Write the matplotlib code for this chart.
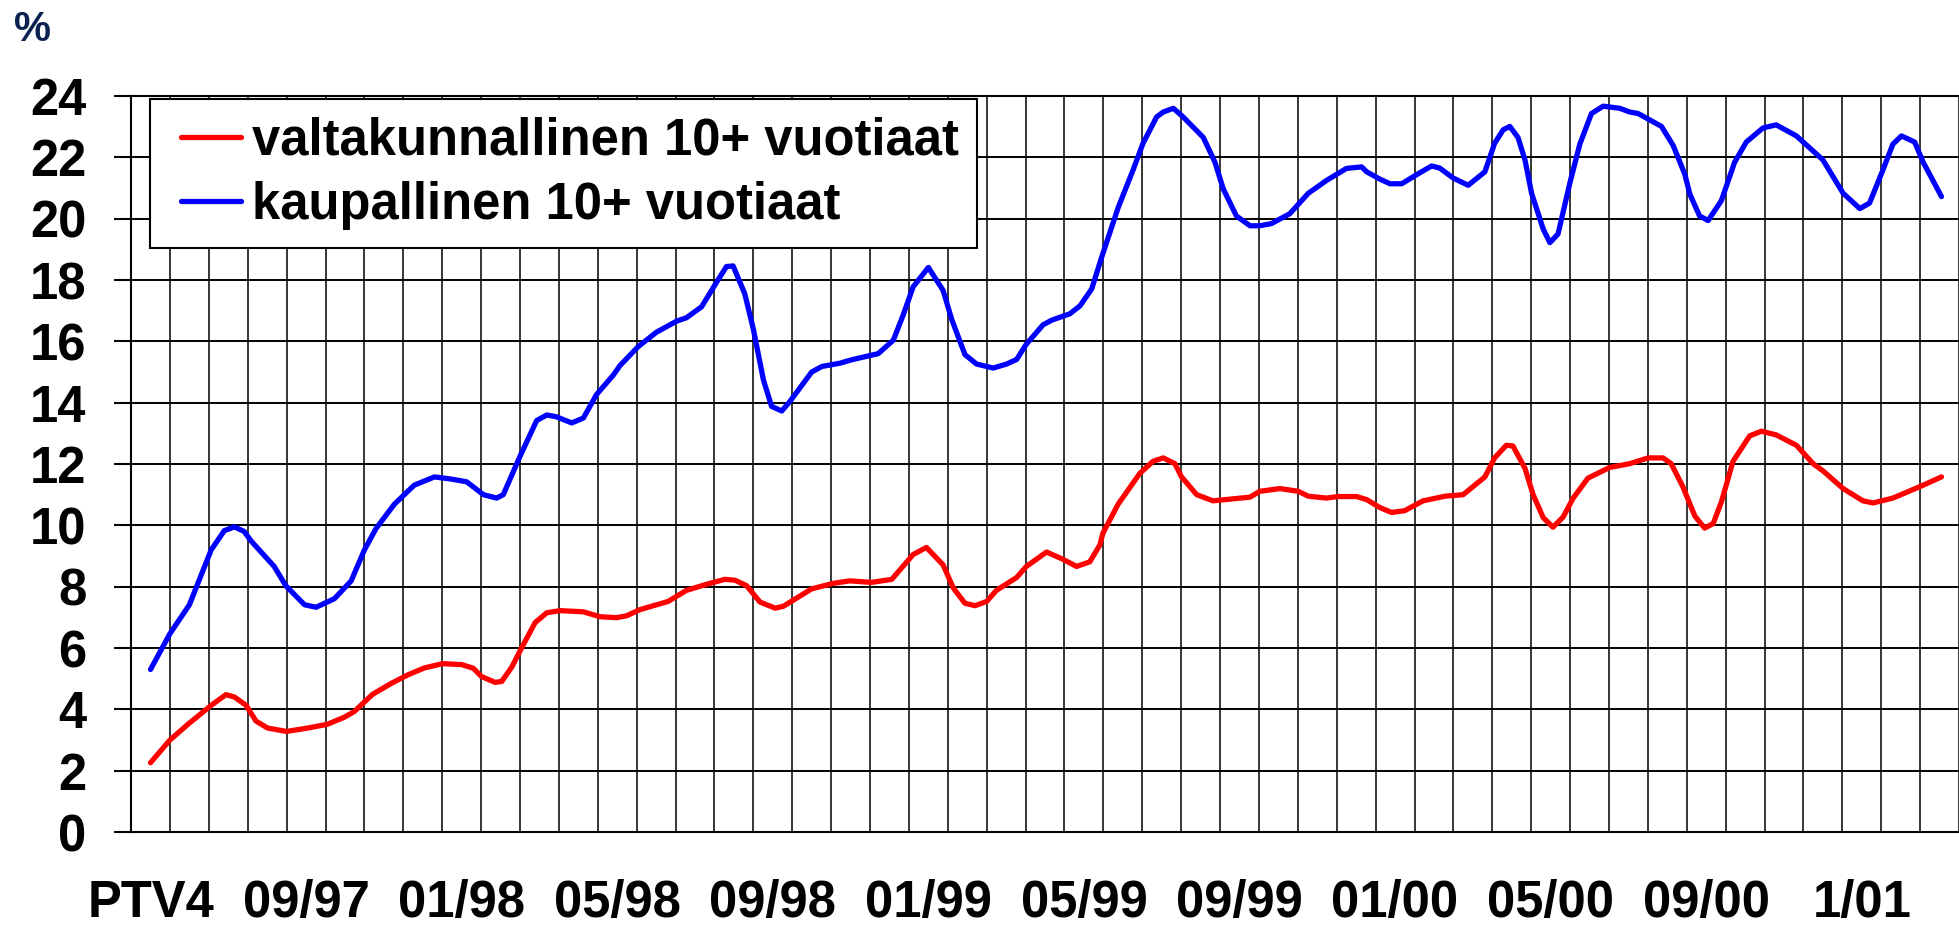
import matplotlib
matplotlib.use("Agg")
import matplotlib.pyplot as plt
from matplotlib.ticker import FixedLocator, MultipleLocator
from matplotlib.legend_handler import HandlerLine2D

plt.rcParams['font.family'] = ['Liberation Sans', 'DejaVu Sans']
plt.rcParams['font.weight'] = 'bold'

# kuukausiluokat: 0 = PTV4 (06/97), 47 kuukautta
tick_pos = [0.5, 4.5, 8.5, 12.5, 16.5, 20.5, 24.5, 28.5, 32.5, 36.5, 40.5, 44.5]
tick_labels = ['PTV4', '09/97', '01/98', '05/98', '09/98', '01/99',
               '05/99', '09/99', '01/00', '05/00', '09/00', '1/01']

# valtakunnallinen 10+ vuotiaat (%)
red_x = [0.5, 1.0, 1.46, 1.76, 2.06, 2.44, 2.66, 2.96, 3.21, 3.51, 4.0, 4.54,
         5.04, 5.48, 5.74, 6.21, 6.68, 7.11, 7.54, 8.01, 8.5, 8.8, 9.01, 9.36,
         9.53, 9.79, 10.04, 10.39, 10.69, 11.03, 11.63, 12.06, 12.48, 12.74,
         13.08, 13.81, 14.28, 14.8, 15.27, 15.53, 15.83, 16.17, 16.56, 16.77,
         17.5, 18.06, 18.48, 19.04, 19.56, 20.11, 20.45, 20.88, 21.14, 21.44,
         21.7, 22.0, 22.25, 22.77, 23.02, 23.54, 23.95, 24.31, 24.65, 24.91,
         24.99, 25.38, 25.94, 26.28, 26.54, 26.84, 27.01, 27.4, 27.82, 28.77,
         29.02, 29.54, 30.01, 30.27, 30.74, 31.04, 31.51, 31.77, 32.11, 32.41,
         32.75, 33.22, 33.78, 34.25, 34.81, 35.06, 35.36, 35.53, 35.84, 36.05,
         36.31, 36.56, 36.82, 37.08, 37.46, 38.02, 38.53, 39.01, 39.39, 39.6,
         39.9, 40.08, 40.21, 40.46, 40.68, 40.89, 41.19, 41.62, 41.92, 42.3,
         42.82, 43.25, 43.5, 44.02, 44.53, 44.79, 45.3, 45.99, 46.55]
red_y = [2.26, 3.0, 3.51, 3.82, 4.13, 4.48, 4.4, 4.13, 3.62, 3.39, 3.28, 3.39,
         3.51, 3.74, 3.93, 4.49, 4.84, 5.12, 5.35, 5.49, 5.46, 5.34, 5.07, 4.88,
         4.91, 5.38, 6.0, 6.83, 7.15, 7.22, 7.18, 7.02, 6.99, 7.05,
         7.25, 7.52, 7.88, 8.08, 8.24, 8.21, 8.03, 7.5, 7.3, 7.36,
         7.93, 8.11, 8.19, 8.14, 8.24, 9.05, 9.28, 8.71, 7.96, 7.46,
         7.38, 7.52, 7.88, 8.3, 8.66, 9.13, 8.9, 8.66, 8.81, 9.36,
         9.75, 10.69, 11.7, 12.09, 12.2, 12.01, 11.58, 11.0, 10.8, 10.92,
         11.11, 11.2, 11.11, 10.95, 10.89, 10.94, 10.94, 10.84, 10.58, 10.42,
         10.48, 10.8, 10.95, 11.0, 11.58, 12.2, 12.61, 12.59, 11.86, 11.0,
         10.25, 9.94, 10.27, 10.89, 11.54, 11.89, 12.01, 12.2, 12.2, 12.01,
         11.26, 10.7, 10.3, 9.91, 10.06, 10.76, 12.09, 12.92, 13.07, 12.95,
         12.61, 12.01, 11.78, 11.2, 10.8, 10.73, 10.89, 11.26, 11.58]

# kaupallinen 10+ vuotiaat (%)
blue_x = [0.5, 1.0, 1.5, 2.06, 2.4, 2.66, 2.91, 3.08, 3.68, 3.98, 4.46, 4.76,
          5.23, 5.66, 6.0, 6.3, 6.77, 7.28, 7.8, 8.23, 8.63, 9.06, 9.4, 9.57,
          10.0, 10.43, 10.69, 10.94, 11.33, 11.63, 11.97, 12.4, 12.57, 13.04,
          13.51, 14.03, 14.28, 14.67, 15.06, 15.31, 15.48, 15.78, 16.0, 16.26,
          16.47, 16.73, 16.94, 17.5, 17.76, 18.23, 18.53, 19.21, 19.6, 19.85,
          20.11, 20.5, 20.88, 21.1, 21.44, 21.74, 22.17, 22.51, 22.77, 23.02,
          23.45, 23.67, 24.14, 24.4, 24.7, 24.95, 25.38, 25.77, 26.02, 26.37,
          26.54, 26.8, 27.05, 27.57, 27.87, 28.08, 28.42, 28.77, 29.02, 29.32,
          29.79, 30.27, 30.74, 31.25, 31.64, 31.77, 32.11, 32.37, 32.67, 33.14,
          33.44, 33.65, 33.99, 34.38, 34.81, 35.06, 35.28, 35.45, 35.66, 35.84,
          36.01, 36.31, 36.48, 36.69, 36.99, 37.25, 37.55, 37.85, 38.28, 38.53,
          38.75, 39.35, 39.65, 39.95, 40.08, 40.33, 40.55, 40.89, 41.23, 41.53,
          41.96, 42.3, 42.82, 43.5, 44.02, 44.45, 44.7, 45.05, 45.3, 45.52,
          45.86, 46.08, 46.55]
blue_y = [5.3, 6.47, 7.41, 9.2, 9.83, 9.95, 9.8, 9.5, 8.66, 8.03, 7.41, 7.33,
          7.61, 8.19, 9.2, 9.9, 10.69, 11.31, 11.58, 11.51, 11.42, 11.0, 10.89, 11.0,
          12.25, 13.42, 13.6, 13.54, 13.34, 13.5, 14.27, 14.9, 15.21, 15.83,
          16.3, 16.66, 16.77, 17.13, 17.94, 18.44, 18.46, 17.55, 16.4, 14.74,
          13.88, 13.73, 14.04, 15.0, 15.18, 15.29, 15.4, 15.6, 16.04, 16.85,
          17.78, 18.41, 17.66, 16.72, 15.57, 15.26, 15.13, 15.26, 15.41, 15.91,
          16.54, 16.69, 16.9, 17.16, 17.71, 18.72, 20.36, 21.61, 22.46, 23.32,
          23.48, 23.6, 23.32, 22.65, 21.84, 20.98, 20.09, 19.77, 19.77, 19.84,
          20.16, 20.83, 21.25, 21.64, 21.69, 21.53, 21.29, 21.14, 21.14, 21.5,
          21.72, 21.65, 21.33, 21.09, 21.53, 22.46, 22.9, 23.01, 22.65, 21.92,
          20.83, 19.66, 19.22, 19.5, 21.14, 22.43, 23.43, 23.67, 23.6, 23.48,
          23.43, 23.01, 22.39, 21.45, 20.8, 20.09, 19.94, 20.59, 21.84, 22.5,
          22.96, 23.06, 22.7, 21.92, 20.83, 20.33, 20.51, 21.61, 22.43, 22.7,
          22.5, 21.84, 20.72]

fig = plt.figure(figsize=(19.59, 9.38), dpi=100)
ax = fig.add_axes([0.0669, 0.113, 0.9331, 0.7846])

ax.plot(red_x, red_y, color='#ff0000', lw=3.8, solid_joinstyle='round',
        solid_capstyle='round', label='valtakunnallinen 10+ vuotiaat', zorder=3)
ax.plot(blue_x, blue_y, color='#0000ff', lw=3.8, solid_joinstyle='round',
        solid_capstyle='round', label='kaupallinen 10+ vuotiaat', zorder=3)

ax.set_xlim(0, 47)
ax.set_ylim(0, 24)
ax.yaxis.set_major_locator(MultipleLocator(2))
ax.xaxis.set_major_locator(FixedLocator(tick_pos))
ax.set_xticklabels(tick_labels)
ax.xaxis.set_minor_locator(MultipleLocator(1))

ax.grid(True, which='major', axis='y', color='black', lw=1.4)
ax.grid(True, which='minor', axis='x', color='black', lw=1.1)
ax.set_axisbelow(True)

ax.spines['right'].set_visible(False)
for s in ['left', 'bottom', 'top']:
    ax.spines[s].set_linewidth(1.5)
    ax.spines[s].set_color('black')

ax.tick_params(axis='x', which='major', length=0, pad=34, labelsize=36.5)
ax.tick_params(axis='x', which='minor', length=0)
ax.tick_params(axis='y', length=12, width=1.5, pad=20, labelsize=36.5)
for lab in ax.get_xticklabels() + ax.get_yticklabels():
    lab.set_fontweight('bold')

fig.text(0.007, 0.968, '%', fontsize=30, fontweight='bold', color='#0b2250',
         ha='left', va='center')

leg = ax.legend(loc='upper left', bbox_to_anchor=(0.0104, 0.9959),
                borderaxespad=0, frameon=True, fancybox=False,
                edgecolor='black', framealpha=1, handlelength=1.44,
                handletextpad=0.22, borderpad=0.35, labelspacing=0.3,
                prop={'weight': 'bold', 'size': 36.5},
                handler_map={plt.Line2D: HandlerLine2D(xpad=0.26)})
leg.get_frame().set_linewidth(1.5)

fig.savefig('out.png', dpi=100, facecolor='white')
